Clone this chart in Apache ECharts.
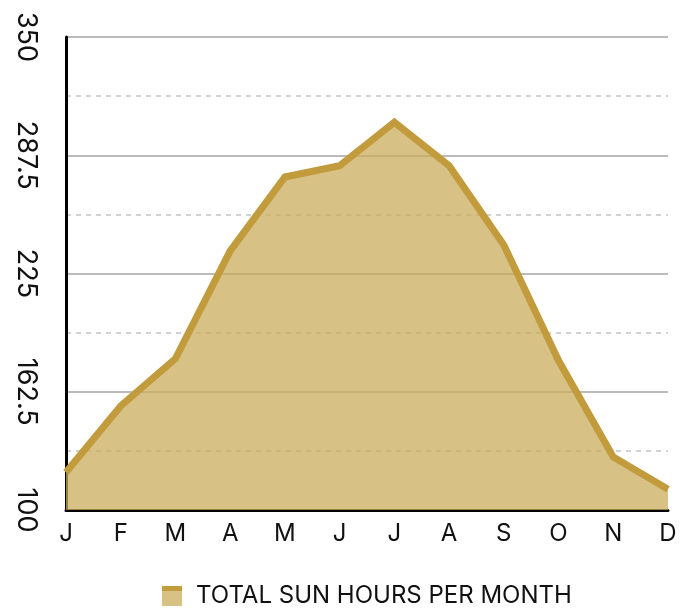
<!DOCTYPE html>
<html>
<head>
<meta charset="utf-8">
<script src="https://cdn.jsdelivr.net/npm/echarts@6/dist/echarts.min.js"></script>
<style>html,body{margin:0;padding:0;background:#fff}#c{width:681px;height:609px}</style>
</head>
<body>
<div id="c"></div>
<script>
var categories = ['J','F','M','A','M','J','J','A','S','O','N','D'];
var sunHours = [120, 155, 180, 237, 276, 282, 305, 282, 240, 179, 128, 111];
var seriesName = 'TOTAL SUN HOURS PER MONTH';
var yMin = 100, yMax = 350, yStep = 62.5;

var lineColor = '#C29B3C';
var chart = echarts.init(document.getElementById('c'));
chart.setOption({
  animation: false,
  textStyle: {fontFamily: 'Inter'},
  grid: {left: 66, right: 13, top: 37, bottom: 99, containLabel: false},
  legend: {
    top: 579,
    left: 157,
    itemWidth: 20, itemHeight: 20, itemGap: 10,
    icon: 'rect',
    textStyle: {fontSize: 24, color: '#111', fontFamily: 'Inter', padding: [0,0,0,9]},
    itemStyle: {
      color: new echarts.graphic.LinearGradient(0,0,0,1,[
        {offset:0,color:lineColor},{offset:0.27,color:lineColor},
        {offset:0.27,color:'#D7C185'},{offset:1,color:'#D7C185'}]),
      borderWidth: 0
    },
    data: [seriesName]
  },
  xAxis: {
    type: 'category',
    data: categories,
    boundaryGap: false,
    axisLine: {lineStyle: {color: '#000', width: 3}},
    axisTick: {show: false},
    axisLabel: {fontSize: 24, color: '#111', margin: 12, interval: 0},
    splitLine: {show: false}
  },
  yAxis: {
    type: 'value',
    min: yMin, max: yMax, interval: yStep,
    axisLine: {show: true, lineStyle: {color: '#000', width: 3}},
    axisTick: {show: false},
    axisLabel: {fontSize: 27, color: '#111', rotate: -90, margin: 40, align: 'center', verticalAlign: 'middle'},
    splitLine: {lineStyle: {color: '#BBBBBB', width: 2}},
    minorTick: {show: false, splitNumber: 2},
    minorSplitLine: {show: true, lineStyle: {color: '#C4C4C4', width: 1.5, type: [5,5]}}
  },
  series: [{
    name: seriesName,
    type: 'line',
    data: sunHours,
    symbol: 'none',
    lineStyle: {color: lineColor, width: 7, join: 'miter'},
    itemStyle: {color: lineColor},
    areaStyle: {color: '#CAAC5C', opacity: 0.75}
  }]
});
</script>
</body>
</html>
